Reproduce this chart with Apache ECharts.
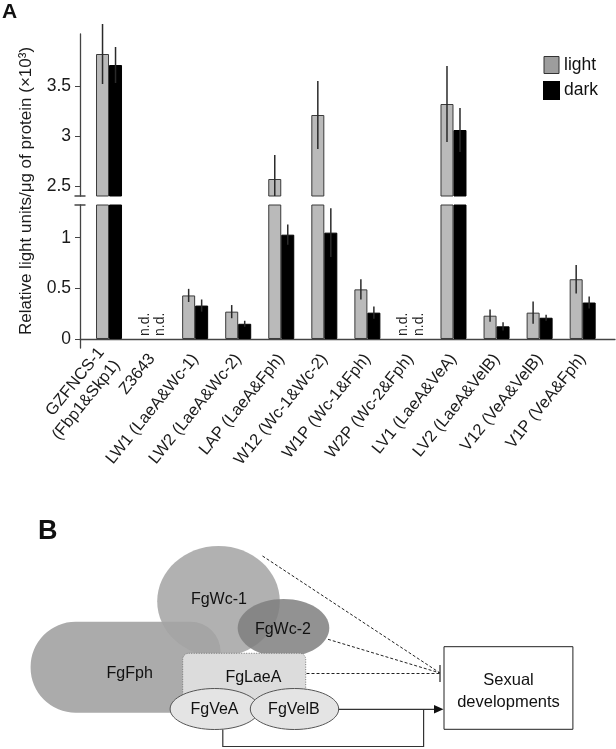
<!DOCTYPE html>
<html>
<head>
<meta charset="utf-8">
<script src="https://cdn.jsdelivr.net/npm/echarts@6/dist/echarts.min.js"></script>
<style>html,body{margin:0;padding:0;background:#fff}#c{width:616px;height:749px}</style>
</head>
<body>
<div id="c"></div>
<script>
// ---- data ----
const categories = ['GZFNCS-1\n(Fbp1&Skp1)', 'Z3643', 'LW1 (LaeA&Wc-1)', 'LW2 (LaeA&Wc-2)', 'LAP (LaeA&Fph)', 'W12 (Wc-1&Wc-2)', 'W1P (Wc-1&Fph)', 'W2P (Wc-2&Fph)', 'LV1 (LaeA&VeA)', 'LV2 (LaeA&VelB)', 'V12 (VeA&VelB)', 'V1P (VeA&Fph)'];
const lightVals = [3.82, null, 0.43, 0.27, 2.57, 3.21, 0.49, null, 3.32, 0.23, 0.26, 0.59];
const lightErr  = [0.30, null, 0.065, 0.065, 0.24, 0.34, 0.10, null, 0.38, 0.06, 0.11, 0.14];
const darkVals  = [3.71, null, 0.33, 0.15, 1.03, 1.05, 0.26, null, 3.06, 0.125, 0.21, 0.36];
const darkErr   = [0.18, null, 0.06, 0.03, 0.10, 0.24, 0.06, null, 0.22, 0.04, 0.03, 0.06];
const upperTicks = [2.5, 3, 3.5];
const lowerTicks = [0, 0.5, 1];
const upperMin = 2.4, upperMax = 4.02;
const lowerMin = -0.089, lowerMax = 1.323;

const FONT = 'Liberation Sans, Arial, sans-serif';
const BW = 13;

const upperData = v => v.map(x => (x != null && x > upperMin) ? x : '-');
const lowerData = v => v.map(x => (x != null) ? x : '-');

function errData(vals, errs, side, inUpper) {
  const out = [];
  vals.forEach((v, i) => {
    if (v == null) return;
    if (inUpper && v > upperMin) out.push([i, v, errs[i], side, upperMin]);
    if (!inUpper && v <= lowerMax) out.push([i, v, errs[i], side, 0]);
  });
  return out;
}
function errRender(params, api) {
  const i = api.value(0), v = api.value(1), e = api.value(2), side = api.value(3), lo = api.value(4);
  const c = api.coord([i, v]);
  const x = c[0] + side * BW / 2;
  const y1 = api.coord([i, Math.max(v - e, lo)])[1];
  const y2 = api.coord([i, v + e])[1];
  return {type: 'line', shape: {x1: x, y1: y1, x2: x, y2: y2}, style: {stroke: '#2a2a2a', lineWidth: 1.5}};
}
const ndData = lightVals.map((v, i) => v == null ? [i, 0] : null).filter(d => d);
function ndRender(params, api) {
  const c = api.coord([api.value(0), 0]);
  const mk = dx => ({type: 'text', x: c[0] + dx, y: c[1] - 3, rotation: Math.PI / 2,
    style: {text: 'n.d.', fontSize: 14, fontFamily: FONT, fill: '#222', align: 'left', verticalAlign: 'middle'}});
  return {type: 'group', children: [mk(-7), mk(8.5)]};
}

const lightStyle = {color: '#bababa', borderColor: '#3a3a3a', borderWidth: 1};
const darkStyle = {color: '#000', borderColor: '#000', borderWidth: 1};
const axisCol = '#444';

const gridLeft = 87.5, gridRight = 11.8;
const T = (x, y, text, size) => ({type: 'text', x: x, y: y, z: 10,
  style: {text: text, fontSize: size || 16, fontFamily: FONT, fill: '#111', align: 'center', verticalAlign: 'middle'}});

const chart = echarts.init(document.getElementById('c'), null, {renderer: 'canvas'});
chart.setOption({
  animation: false,
  backgroundColor: '#fff',
  textStyle: {fontFamily: FONT},
  legend: {
    orient: 'vertical', left: 543, top: 56, padding: 0, itemWidth: 15, itemHeight: 17, itemGap: 7,
    textStyle: {fontSize: 17.5, color: '#111', fontFamily: FONT},
    data: [
      {name: 'light', icon: 'rect', itemStyle: {color: '#9d9d9d', borderColor: '#333', borderWidth: 1}},
      {name: 'dark', icon: 'rect', itemStyle: {color: '#000'}}
    ]
  },
  grid: [
    {left: gridLeft, right: gridRight, top: 34, height: 162},
    {left: gridLeft, right: gridRight, top: 205, height: 143},
    {left: 80, right: 1, top: 34, height: 314}
  ],
  xAxis: [
    {gridIndex: 0, type: 'category', data: categories, axisLine: {show: false}, axisTick: {show: false}, axisLabel: {show: false}},
    {gridIndex: 1, type: 'category', data: categories, axisLine: {show: false}, axisTick: {show: false},
      axisLabel: {interval: 0, rotate: 51, fontSize: 16.5, color: '#1a1a1a', margin: 8, fontFamily: FONT, lineHeight: 20, padding: [26, 0, 0, 0]}},
    {gridIndex: 2, type: 'value', min: 0, max: 1, axisLine: {show: true, onZero: true, lineStyle: {color: axisCol, width: 1.3}},
      axisTick: {show: false}, axisLabel: {show: false}, splitLine: {show: false}}
  ],
  yAxis: [
    {gridIndex: 0, type: 'value', min: upperMin, max: upperMax, offset: 7.5,
      axisLine: {show: true, symbol: ['rect', 'none'], symbolSize: [11, 1.5], lineStyle: {color: axisCol, width: 1.3}},
      axisTick: {show: true, length: 5, customValues: upperTicks, lineStyle: {color: axisCol}},
      axisLabel: {customValues: upperTicks, fontSize: 17.5, color: '#1a1a1a', margin: 9, fontFamily: FONT},
      splitLine: {show: false}},
    {gridIndex: 1, type: 'value', min: lowerMin, max: lowerMax, offset: 7.5,
      axisLine: {show: true, symbol: ['none', 'rect'], symbolSize: [11, 1.5], lineStyle: {color: axisCol, width: 1.3}},
      axisTick: {show: true, length: 5, customValues: lowerTicks, lineStyle: {color: axisCol}},
      axisLabel: {customValues: lowerTicks, fontSize: 17.5, color: '#1a1a1a', margin: 9, fontFamily: FONT},
      splitLine: {show: false}},
    {gridIndex: 2, type: 'value', min: -9, max: 305, axisLine: {show: false}, axisTick: {show: false},
      axisLabel: {show: false}, splitLine: {show: false},
      name: 'Relative light units/μg of protein (×10³)', nameLocation: 'middle', nameGap: 45,
      nameTextStyle: {fontSize: 17, color: '#1a1a1a', fontFamily: FONT}}
  ],
  series: [
    {name: 'light', type: 'bar', xAxisIndex: 0, yAxisIndex: 0, data: upperData(lightVals), barWidth: BW, barGap: '0%', itemStyle: lightStyle},
    {name: 'dark', type: 'bar', xAxisIndex: 0, yAxisIndex: 0, data: upperData(darkVals), barWidth: BW, barGap: '0%', itemStyle: darkStyle},
    {name: 'light', type: 'bar', xAxisIndex: 1, yAxisIndex: 1, data: lowerData(lightVals), barWidth: BW, barGap: '0%', itemStyle: lightStyle},
    {name: 'dark', type: 'bar', xAxisIndex: 1, yAxisIndex: 1, data: lowerData(darkVals), barWidth: BW, barGap: '0%', itemStyle: darkStyle},
    {name: 'errLU', type: 'custom', xAxisIndex: 0, yAxisIndex: 0, z: 5, data: errData(lightVals, lightErr, -1, true), renderItem: errRender},
    {name: 'errDU', type: 'custom', xAxisIndex: 0, yAxisIndex: 0, z: 5, data: errData(darkVals, darkErr, 1, true), renderItem: errRender},
    {name: 'errLL', type: 'custom', xAxisIndex: 1, yAxisIndex: 1, z: 5, data: errData(lightVals, lightErr, -1, false), renderItem: errRender},
    {name: 'errDL', type: 'custom', xAxisIndex: 1, yAxisIndex: 1, z: 5, data: errData(darkVals, darkErr, 1, false), renderItem: errRender},
    {name: 'nd', type: 'custom', xAxisIndex: 1, yAxisIndex: 1, z: 5, data: ndData, renderItem: ndRender}
  ],
  graphic: [
    {type: 'text', left: 2, top: 2, style: {text: 'A', font: 'bold 21px ' + FONT, fill: '#111'}},
    {type: 'text', left: 38, top: 518, style: {text: 'B', font: 'bold 27px ' + FONT, fill: '#111'}},
    // panel B diagram
    {type: 'rect', shape: {x: 30.6, y: 621.7, width: 190, height: 91, r: [45, 30, 30, 45]}, style: {fill: '#ababab'}, z: 1},
    {type: 'ellipse', shape: {cx: 218.5, cy: 601.3, rx: 61.3, ry: 55.3}, style: {fill: '#a3a3a3', opacity: 0.85}, z: 2},
    {type: 'ellipse', shape: {cx: 283.5, cy: 628, rx: 45.8, ry: 29}, style: {fill: '#7f7f7f', opacity: 0.85}, z: 3},
    {type: 'rect', shape: {x: 182.7, y: 653.3, width: 123, height: 50, r: 6}, style: {fill: '#dcdcdc', stroke: '#777', lineWidth: 1, lineDash: [1, 1.5]}, z: 4},
    {type: 'ellipse', shape: {cx: 214.7, cy: 709, rx: 44.6, ry: 20.5}, style: {fill: '#e4e4e4', stroke: '#555', lineWidth: 1}, z: 5},
    {type: 'ellipse', shape: {cx: 294.5, cy: 709, rx: 44.2, ry: 20.5}, style: {fill: '#e4e4e4', stroke: '#555', lineWidth: 1}, z: 6},
    T(218.9, 600, 'FgWc-1'),
    T(282.9, 630, 'FgWc-2'),
    T(129.7, 673.3, 'FgFph'),
    T(253.4, 678, 'FgLaeA'),
    T(214.5, 709.5, 'FgVeA'),
    T(293.9, 709.5, 'FgVelB'),
    {type: 'rect', shape: {x: 444, y: 646.7, width: 128.9, height: 82.6}, style: {fill: '#fff', stroke: '#222', lineWidth: 1}},
    T(508.5, 680, 'Sexual', 16.5),
    T(508.5, 702, 'developments', 16.5),
    {type: 'line', shape: {x1: 262.5, y1: 556, x2: 440, y2: 673}, style: {stroke: '#222', lineWidth: 1, lineDash: [3, 2]}, z: 8},
    {type: 'line', shape: {x1: 328, y1: 639.3, x2: 440, y2: 673}, style: {stroke: '#222', lineWidth: 1, lineDash: [3, 2]}, z: 8},
    {type: 'line', shape: {x1: 306.5, y1: 673.5, x2: 440, y2: 673.5}, style: {stroke: '#222', lineWidth: 1, lineDash: [3, 2]}, z: 8},
    {type: 'line', shape: {x1: 440, y1: 665, x2: 440, y2: 682}, style: {stroke: '#333', lineWidth: 1.3}, z: 8},
    {type: 'line', shape: {x1: 338.7, y1: 709.3, x2: 436, y2: 709.3}, style: {stroke: '#333', lineWidth: 1.2}, z: 8},
    {type: 'polygon', shape: {points: [[434, 705], [443.5, 709.3], [434, 713.6]]}, style: {fill: '#111'}, z: 8},
    {type: 'polyline', shape: {points: [[222.8, 729.5], [222.8, 746.5], [423.6, 746.5], [423.6, 709.3]]}, style: {stroke: '#333', lineWidth: 1.2, fill: null}, z: 8}
  ]
});
</script>
</body>
</html>
